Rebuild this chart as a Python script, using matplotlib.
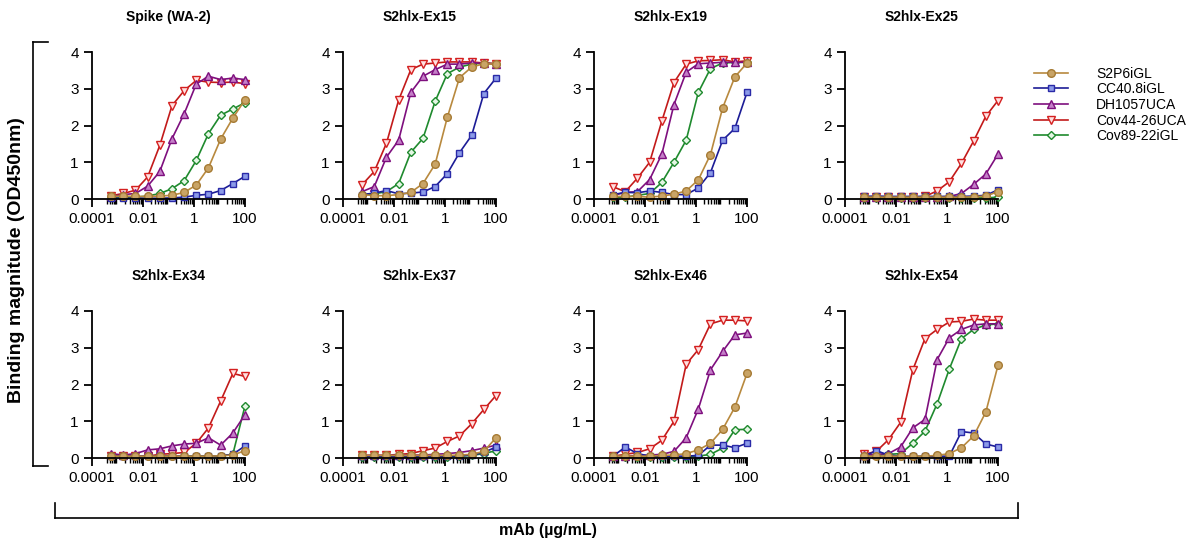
import matplotlib
matplotlib.use("Agg")
from matplotlib import pyplot as plt
from matplotlib.lines import Line2D
from matplotlib.ticker import FixedLocator, NullFormatter
import numpy as np

plt.rcParams['font.family'] = ['Liberation Sans', 'DejaVu Sans']

# 3-fold dilution series, 100 ug/mL down (12 points), ascending
conc = [0.000564, 0.00169, 0.00508, 0.0152, 0.0457, 0.137,
        0.412, 1.23, 3.70, 11.1, 33.3, 100.0]

panels = ["Spike (WA-2)", "S2hlx-Ex15", "S2hlx-Ex19", "S2hlx-Ex25",
          "S2hlx-Ex34", "S2hlx-Ex37", "S2hlx-Ex46", "S2hlx-Ex54"]

names = ["S2P6iGL", "CC40.8iGL", "DH1057UCA", "Cov44-26UCA", "Cov89-22iGL"]

s2p6 = [
    [0.07, 0.08, 0.07, 0.07, 0.08, 0.10, 0.18, 0.38, 0.85, 1.63, 2.20, 2.70],
    [0.12, 0.09, 0.09, 0.12, 0.18, 0.42, 0.95, 2.22, 3.30, 3.59, 3.68, 3.67],
    [0.07, 0.07, 0.07, 0.05, 0.08, 0.13, 0.22, 0.52, 1.21, 2.48, 3.32, 3.70],
    [0.05, 0.05, 0.05, 0.05, 0.05, 0.05, 0.05, 0.05, 0.05, 0.06, 0.08, 0.20],
    [0.05, 0.05, 0.05, 0.05, 0.05, 0.05, 0.05, 0.05, 0.05, 0.06, 0.08, 0.20],
    [0.07, 0.07, 0.07, 0.07, 0.07, 0.07, 0.07, 0.07, 0.08, 0.10, 0.18, 0.55],
    [0.05, 0.05, 0.05, 0.05, 0.07, 0.08, 0.12, 0.22, 0.40, 0.78, 1.38, 2.30],
    [0.05, 0.05, 0.05, 0.05, 0.05, 0.05, 0.07, 0.12, 0.28, 0.60, 1.25, 2.52],
]
cc40 = [
    [0.02, 0.02, 0.02, 0.02, 0.02, 0.03, 0.05, 0.10, 0.13, 0.23, 0.42, 0.62],
    [0.12, 0.16, 0.23, 0.14, 0.16, 0.19, 0.34, 0.69, 1.26, 1.73, 2.87, 3.29],
    [0.12, 0.18, 0.17, 0.22, 0.18, 0.12, 0.12, 0.30, 0.72, 1.60, 1.92, 2.90],
    [0.07, 0.08, 0.07, 0.07, 0.07, 0.07, 0.07, 0.07, 0.07, 0.08, 0.10, 0.25],
    [0.05, 0.05, 0.05, 0.05, 0.05, 0.05, 0.05, 0.05, 0.05, 0.06, 0.10, 0.33],
    [0.05, 0.05, 0.05, 0.05, 0.05, 0.05, 0.05, 0.05, 0.06, 0.08, 0.15, 0.30],
    [0.05, 0.30, 0.12, 0.05, 0.05, 0.05, 0.05, 0.07, 0.35, 0.35, 0.28, 0.40],
    [0.05, 0.20, 0.08, 0.05, 0.05, 0.05, 0.05, 0.05, 0.72, 0.68, 0.38, 0.30],
]
dh1057 = [
    [0.07, 0.12, 0.15, 0.35, 0.75, 1.64, 2.32, 3.13, 3.34, 3.25, 3.29, 3.25],
    [0.20, 0.34, 1.14, 1.60, 2.90, 3.34, 3.52, 3.67, 3.67, 3.70, 3.70, 3.67],
    [0.10, 0.18, 0.20, 0.53, 1.22, 2.57, 3.45, 3.68, 3.70, 3.72, 3.72, 3.72],
    [0.05, 0.05, 0.05, 0.05, 0.05, 0.05, 0.05, 0.07, 0.15, 0.40, 0.68, 1.22],
    [0.12, 0.08, 0.12, 0.22, 0.25, 0.33, 0.38, 0.40, 0.55, 0.35, 0.68, 1.18],
    [0.07, 0.07, 0.07, 0.07, 0.08, 0.08, 0.10, 0.12, 0.15, 0.20, 0.27, 0.35],
    [0.05, 0.05, 0.07, 0.08, 0.10, 0.18, 0.55, 1.33, 2.40, 2.90, 3.35, 3.40],
    [0.07, 0.10, 0.12, 0.30, 0.82, 1.05, 2.68, 3.27, 3.50, 3.62, 3.65, 3.65],
]
cov44 = [
    [0.09, 0.15, 0.24, 0.60, 1.46, 2.54, 2.95, 3.23, 3.18, 3.17, 3.18, 3.14],
    [0.39, 0.75, 1.52, 2.69, 3.52, 3.67, 3.70, 3.73, 3.73, 3.73, 3.70, 3.68],
    [0.33, 0.20, 0.57, 1.00, 2.12, 3.17, 3.67, 3.76, 3.77, 3.79, 3.73, 3.76],
    [0.05, 0.05, 0.05, 0.05, 0.05, 0.07, 0.22, 0.47, 0.97, 1.58, 2.25, 2.68],
    [0.05, 0.05, 0.05, 0.05, 0.10, 0.12, 0.15, 0.40, 0.82, 1.55, 2.30, 2.22],
    [0.07, 0.07, 0.07, 0.10, 0.12, 0.20, 0.27, 0.45, 0.60, 0.93, 1.32, 1.70],
    [0.05, 0.10, 0.15, 0.25, 0.48, 1.00, 2.55, 2.95, 3.65, 3.75, 3.75, 3.73],
    [0.10, 0.18, 0.50, 0.97, 2.40, 3.25, 3.50, 3.70, 3.72, 3.78, 3.75, 3.75],
]
cov89 = [
    [0.05, 0.05, 0.05, 0.08, 0.15, 0.28, 0.50, 1.05, 1.78, 2.28, 2.45, 2.62],
    [0.12, 0.14, 0.20, 0.42, 1.27, 1.65, 2.66, 3.41, 3.59, 3.67, 3.70, 3.68],
    [0.05, 0.05, 0.10, 0.15, 0.45, 1.00, 1.60, 2.90, 3.55, 3.70, 3.72, 3.72],
    [0.03, 0.03, 0.03, 0.03, 0.03, 0.03, 0.03, 0.03, 0.03, 0.03, 0.03, 0.05],
    [0.05, 0.05, 0.05, 0.05, 0.05, 0.05, 0.05, 0.05, 0.05, 0.05, 0.10, 1.42],
    [0.03, 0.03, 0.03, 0.03, 0.03, 0.03, 0.03, 0.03, 0.05, 0.07, 0.12, 0.20],
    [0.03, 0.03, 0.03, 0.03, 0.03, 0.03, 0.03, 0.05, 0.10, 0.27, 0.77, 0.78],
    [0.05, 0.07, 0.10, 0.12, 0.40, 0.73, 1.48, 2.42, 3.25, 3.50, 3.62, 3.65],
]

data = [s2p6, cc40, dh1057, cov44, cov89]

# line colour, marker face, marker edge, marker, marker size
styles = [
    ("#B8893E", "#C9A466", "#A67B34", "o", 5.5),
    ("#1C1C96", "#8C9BE8", "#2A2AA8", "s", 5.0),
    ("#7E0F7E", "#C47FC8", "#7E0F7E", "^", 5.5),
    ("#C21A1A", "#FFE0E0", "#D42020", "v", 5.5),
    ("#1F8A2E", "#E4F6E4", "#1F8A2E", "D", 4.0),
]
draw_order = [4, 3, 2, 1, 0]

W, H = 1197, 545
fig = plt.figure(figsize=(W / 100, H / 100), dpi=100)

lefts = [92, 343, 594, 845]
tops = [52, 311]
aw, ah = 153, 147

minor = [m * 10.0**e for e in range(-4, 2) for m in range(2, 10) if m * 10.0**e >= 4e-4]

for i, title in enumerate(panels):
    r, c = divmod(i, 4)
    ax = fig.add_axes([lefts[c] / W, 1 - (tops[r] + ah) / H, aw / W, ah / H])
    for k in draw_order:
        lc, fc, ec, mk, ms = styles[k]
        ax.plot(conc, data[k][i], color=lc, lw=1.2, marker=mk, ms=ms,
                mfc=fc, mec=ec, mew=1.0, clip_on=False)
    ax.set_xscale('log')
    ax.set_xlim(1e-4, 100)
    ax.set_ylim(0, 4)
    ax.set_xticks([1e-4, 1e-2, 1, 100])
    ax.set_xticklabels(["0.0001", "0.01", "1", "100"])
    ax.xaxis.set_minor_locator(FixedLocator(minor))
    ax.xaxis.set_minor_formatter(NullFormatter())
    ax.set_yticks([0, 1, 2, 3, 4])
    for s in ['top', 'right']:
        ax.spines[s].set_visible(False)
    for s in ['left', 'bottom']:
        ax.spines[s].set_linewidth(1.3)
    ax.tick_params(which='major', length=6, width=1.3, labelsize=11, direction='out')
    ax.tick_params(which='minor', length=3.5, width=1.0, direction='out')
    ax.set_title(title, fontsize=10, fontweight='bold', pad=22)

# brackets
def fl(x0, y0, x1, y1):
    fig.add_artist(Line2D([x0 / W, x1 / W], [1 - y0 / H, 1 - y1 / H],
                          color='black', lw=1.2))

fl(33, 42, 33, 466)
fl(33, 42, 48, 42)
fl(33, 466, 48, 466)
fl(55, 518, 1018, 518)
fl(55, 518, 55, 503)
fl(1018, 518, 1018, 503)

fig.text(17 / W, 1 - 260 / H, "Binding magnitude (OD450nm)", rotation=90,
         ha='center', va='center', fontsize=14, fontweight='bold')
fig.text(548 / W, 1 - 530 / H, "mAb (\u00b5g/mL)", ha='center', va='center',
         fontsize=11.5, fontweight='bold')

handles = []
for k in range(5):
    lc, fc, ec, mk, ms = styles[k]
    handles.append(Line2D([], [], color=lc, lw=1.2, marker=mk, ms=ms,
                          mfc=fc, mec=ec, mew=1.0))
fig.legend(handles, names, loc='upper left', bbox_to_anchor=(1028 / W, 1 - 61 / H),
           frameon=False, fontsize=10, handlelength=2.5, handletextpad=2.0,
           labelspacing=0.12, borderaxespad=0)

fig.savefig("out.png", dpi=100)
